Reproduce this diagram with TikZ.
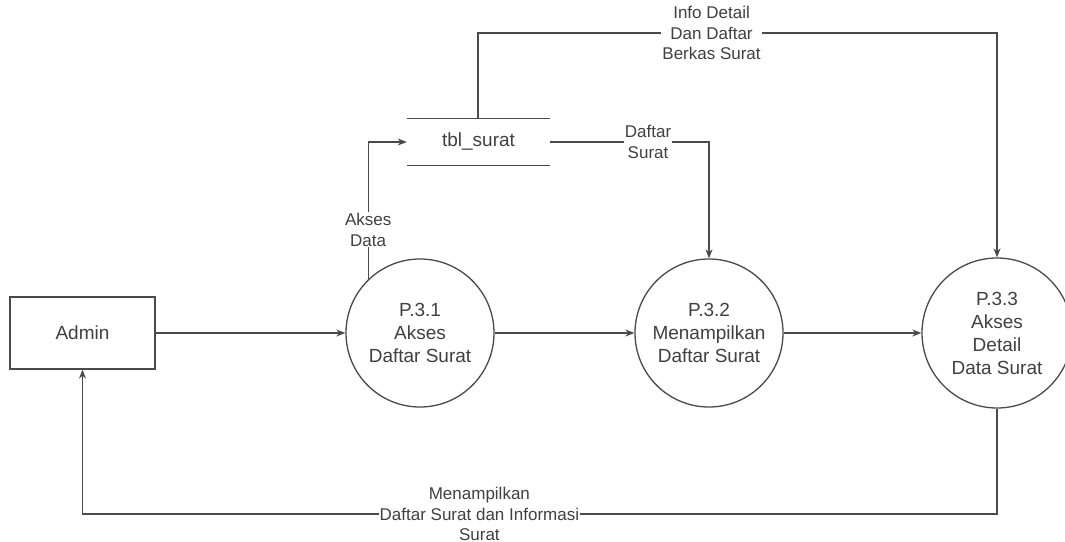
\documentclass[tikz,border=0pt]{standalone}
\usepackage{fontspec}
\setmainfont{Liberation Sans}
\usetikzlibrary{arrows.meta}
\definecolor{ink}{HTML}{404040}
\definecolor{wire}{HTML}{4A4A4A}
\tikzset{
  flow/.style={draw=wire, line width=1.3pt, -{Stealth[length=9pt,width=7pt]}},
  plain/.style={draw=wire, line width=1.3pt},
  proc/.style={circle, draw=wire, line width=1.3pt, minimum size=148pt, inner sep=0pt,
    align=center, text=ink, font=\fontsize{19}{23}\selectfont},
  entity/.style={rectangle, draw=wire, line width=1.3pt, minimum width=145pt, minimum height=72pt,
    text=ink, font=\fontsize{19}{23}\selectfont},
  store/.style={rectangle, minimum width=143pt, minimum height=47pt, inner sep=0pt,
    text=ink, font=\fontsize{19}{23}\selectfont},
  lbl/.style={fill=white, align=center, text=ink, inner sep=1pt,
    font=\fontsize{17}{20.5}\selectfont},
}
\begin{document}
\begin{tikzpicture}[x=1pt, y=-1pt]
  \useasboundingbox[fill=white] (0,0) rectangle (1065,541);

  % external entity, processes and data store
  \node[entity] (admin) at (82.5,333) {Admin};
  \node[proc] (p31) at (420,333) {P.3.1\\Akses\\Daftar Surat};
  \node[proc] (p32) at (709,333) {P.3.2\\Menampilkan\\Daftar Surat};
  \node[proc, minimum size=150pt] (p33) at (997,333) {P.3.3\\Akses\\Detail\\Data Surat};
  \node[store] (tbl) at (478.5,142) {tbl\_surat};
  \draw[plain] (tbl.north west) -- (tbl.north east);
  \draw[plain] (tbl.south west) -- (tbl.south east);

  % helper points on the store and the return path
  \coordinate (tbltop) at (478,118.5);
  \coordinate (topturn) at (478,33);
  \coordinate (botturn) at (997,514);

  % main flow
  \draw[flow] (admin.east) -- (p31.west);
  \draw[flow] (p31.east) -- (p32.west);
  \draw[flow] (p32.east) -- (p33.west);

  % data access
  \draw[flow] (p31.134.6) |- node[lbl, pos=0.18] {Akses\\Data} (tbl.west);
  \draw[flow] (tbl.east) -| node[lbl, pos=0.308] {Daftar\\Surat} (p32.north);
  \draw[flow] (tbltop) -- (topturn) -| node[lbl, pos=0.225] {Info Detail\\Dan Daftar\\Berkas Surat} (p33.north);

  % result back to the admin
  \draw[flow] (p33.south) -- (botturn) -| node[lbl, pos=0.283] {Menampilkan\\Daftar Surat dan Informasi\\Surat} (admin.south);
\end{tikzpicture}
\end{document}
